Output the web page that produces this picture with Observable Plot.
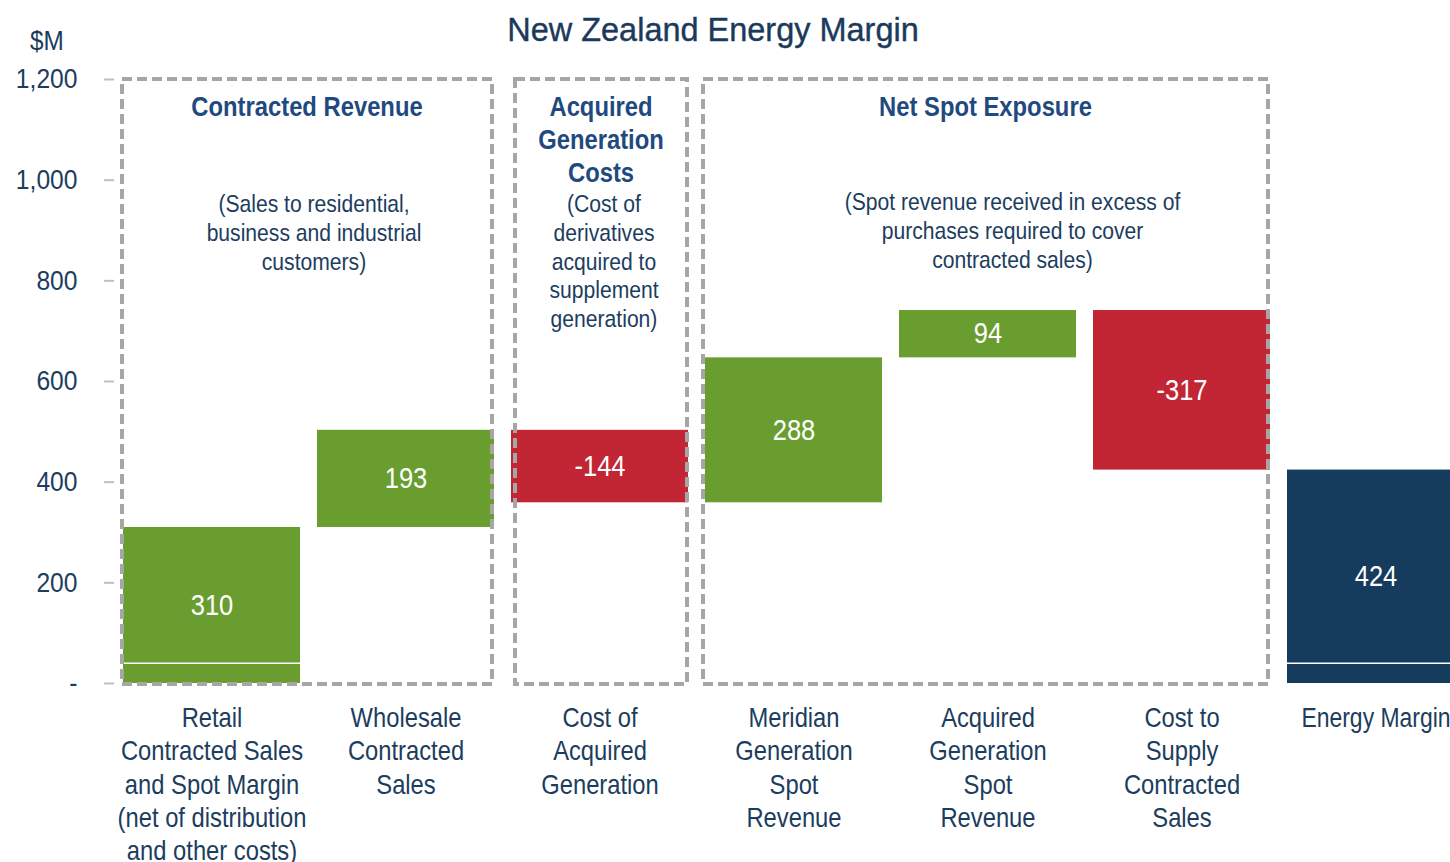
<!DOCTYPE html>
<html>
<head>
<meta charset="utf-8">
<script src="https://cdn.jsdelivr.net/npm/d3@7"></script>
<script src="https://cdn.jsdelivr.net/npm/@observablehq/plot@0.6"></script>
<style>
  body { margin: 0; background: #fff; }
  #wrap { position: relative; width: 1450px; height: 862px; overflow: hidden;
          font-family: "Liberation Sans", Arial, sans-serif; }
  #title { position: absolute; left: 0; width: 1426px; top: 9px; text-align: center;
           font-size: 34px; line-height: 40px; color: #1b3a5b; white-space: nowrap;
           transform: scaleX(0.955); transform-origin: 713px 0; -webkit-text-stroke: 0.4px #1b3a5b; }
  #unit { position: absolute; left: 30px; top: 25px; font-size: 27px; line-height: 32px; color: #1b3a5b;
          transform: scaleX(0.9); transform-origin: 0 0; }
  #chart { position: absolute; left: 0; top: 0; }
</style>
</head>
<body>
<div id="wrap">
  <div id="chart"></div>
  <div id="title">New Zealand Energy Margin</div>
  <div id="unit">$M</div>
</div>
<script>
// ---- data ----
const categories = ["retail", "wholesale", "acqcost", "meridianspot", "acqspot", "supplycost", "margin"];
const categoryLabels = [
  "Retail\nContracted Sales\nand Spot Margin\n(net of distribution\nand other costs)",
  "Wholesale\nContracted\nSales",
  "Cost of\nAcquired\nGeneration",
  "Meridian\nGeneration\nSpot\nRevenue",
  "Acquired\nGeneration\nSpot\nRevenue",
  "Cost to\nSupply\nContracted\nSales",
  "Energy Margin"
];
const values = [310, 193, -144, 288, 94, -317, 424];
const barStarts = [0, 310, 503, 359, 647, 741, 0];
const barEnds = [310, 503, 359, 647, 741, 424, 424];
const barKinds = ["increase", "increase", "decrease", "increase", "increase", "decrease", "total"];
const splitLines = [40, null, null, null, null, null, 40];

const groupNames = ["Contracted Revenue", "Acquired\nGeneration\nCosts", "Net Spot Exposure"];
const groupFirst = ["retail", "acqcost", "meridianspot"];
const groupLast = ["wholesale", "acqcost", "supplycost"];
const groupNotes = [
  "(Sales to residential,\nbusiness and industrial\ncustomers)",
  "(Cost of\nderivatives\nacquired to\nsupplement\ngeneration)",
  "(Spot revenue received in excess of\npurchases required to cover\ncontracted sales)"
];
const yTicks = [0, 200, 400, 600, 800, 1000, 1200];

// ---- table ----
const bars = categories.map((c, i) => ({
  cat: c, label: categoryLabels[i], value: values[i],
  y1: barStarts[i], y2: barEnds[i], kind: barKinds[i], split: splitLines[i]
}));
const groups = groupNames.map((n, i) => ({
  name: n, first: groupFirst[i], last: groupLast[i], note: groupNotes[i]
}));

const FONT = '"Liberation Sans", Arial, sans-serif';
const TEXT = "#1c3d5e";
const HEAD = "#1f4a80";
const NS = "http://www.w3.org/2000/svg";

// box edge insets relative to the band edges (left, right)
const boxInset = [[-1, -2], [4, -1], [-2, -2]];

function groupBoxes(index, scales) {
  const g = document.createElementNS(NS, "g");
  const x = scales.x, y = scales.y, bw = x.bandwidth();
  const top = y(1200), bottom = y(0) + 1;
  groups.forEach((grp, i) => {
    const left = x(grp.first) + boxInset[i][0];
    const right = x(grp.last) + bw + boxInset[i][1];
    const r = document.createElementNS(NS, "rect");
    r.setAttribute("x", left); r.setAttribute("y", top);
    r.setAttribute("width", right - left); r.setAttribute("height", bottom - top);
    r.setAttribute("fill", "none"); r.setAttribute("stroke", "#a6a6a6");
    r.setAttribute("stroke-width", 4); r.setAttribute("stroke-dasharray", "10,5");
    g.appendChild(r);
  });
  return g;
}

function multiline(str, cx, cy, lh, size, fill, weight, sx) {
  const t = document.createElementNS(NS, "text");
  t.setAttribute("transform", `translate(${cx},${cy})`);
  t.setAttribute("font-size", size); t.setAttribute("fill", fill);
  if (weight) t.setAttribute("font-weight", weight);
  if (sx) t.setAttribute("data-sx", sx);
  str.split("\n").forEach((line, k) => {
    const s = document.createElementNS(NS, "tspan");
    s.setAttribute("x", 0); s.setAttribute("y", k * lh);
    s.textContent = line; t.appendChild(s);
  });
  return t;
}

function groupTexts(index, scales) {
  const g = document.createElementNS(NS, "g");
  g.setAttribute("font-family", FONT);
  g.setAttribute("text-anchor", "middle");
  const x = scales.x, y = scales.y, bw = x.bandwidth();
  const top = y(1200);
  const noteShift = [7, 3, 27];
  const noteTop = [133, 133, 131];
  groups.forEach((grp, i) => {
    const l = x(grp.first) + boxInset[i][0], r = x(grp.last) + bw + boxInset[i][1];
    const cx = (l + r) / 2;
    g.appendChild(multiline(grp.name, cx, top + 37, 33, 28, HEAD, "bold", 0.85));
    g.appendChild(multiline(grp.note, cx + noteShift[i], top + noteTop[i], 28.8, 24, TEXT));
  });
  return g;
}

const chart = Plot.plot({
  width: 1450,
  height: 862,
  marginTop: 79,
  marginBottom: 179,
  marginLeft: 114,
  marginRight: 0,
  style: { fontFamily: FONT, background: "#fff", overflow: "hidden" },
  x: { domain: categories, range: [114, 1472], paddingInner: 0.088, paddingOuter: 0.044, axis: null },
  y: { domain: [0, 1200], axis: null },
  color: { domain: ["increase", "decrease", "total"], range: ["#6a9d2f", "#c22634", "#153c5d"] },
  marks: [
    Plot.ruleY(yTicks.filter(d => d > 0), { x1: 104, x2: 1450, y: d => d, stroke: "#b8b8b8", strokeWidth: 1.6, strokeDasharray: "2,3" }),
    Plot.barY(bars, { x: "cat", y1: "y1", y2: "y2", fill: "kind" }),
    Plot.tickY(bars.filter(d => d.split != null), { x: "cat", y: "split", stroke: "#fff", strokeWidth: 1.5 }),
    Plot.ruleX([0], { x: () => 114, y1: 0, y2: 1200, stroke: "#bfbfbf", strokeWidth: 2.5 }),
    Plot.axisY(yTicks, {
      tickSize: 10, tickPadding: 27, stroke: "#bfbfbf", strokeWidth: 2,
      tickFormat: d => d === 0 ? "-" : d3.format(",")(d),
      fontSize: 28, fill: TEXT, color: TEXT
    }),
    Plot.ruleY([0], { x1: 104, x2: 1450, stroke: "#bfbfbf", strokeWidth: 2.5 }),
    groupBoxes,
    Plot.text(bars, {
      x: "cat", y: d => (d.y1 + d.y2) / 2, text: d => String(d.value),
      fill: "#fff", fontSize: 29
    }),
    Plot.text(bars, {
      x: "cat", y: 0, text: "label", lineAnchor: "top", dy: 20, lineHeight: 1.233,
      fill: TEXT, fontSize: 27
    }),
    groupTexts
  ]
});

// narrow (Arial-Narrow-like) lettering: squeeze every text horizontally about its anchor
chart.querySelectorAll("text").forEach(t => {
  const tr = t.getAttribute("transform") || "";
  let sx = t.getAttribute("data-sx") || 0.88;
  if (t.textContent === "Energy Margin") sx = 0.85; // keep the last label inside the frame
  t.setAttribute("transform", `${tr} scale(${sx},1)`);
});
document.getElementById("chart").appendChild(chart);
</script>
</body>
</html>
